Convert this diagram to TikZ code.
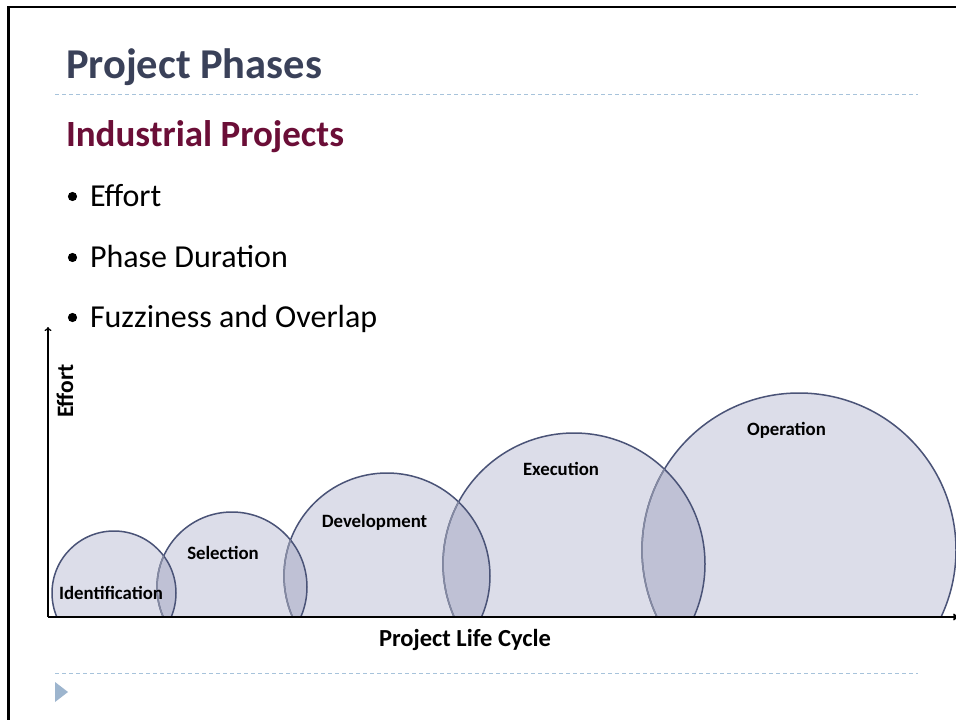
\documentclass[tikz,border=0pt]{standalone}
\usepackage{fontspec}
\setmainfont{Carlito}
\usetikzlibrary{arrows.meta}
\definecolor{titlecol}{HTML}{3A4159}
\definecolor{subcol}{HTML}{6B0E37}
\definecolor{dashcol}{HTML}{A7C3DB}
\definecolor{tricol}{HTML}{9DB5CE}
\definecolor{circfill}{HTML}{DCDDE9}
\definecolor{lensfill}{HTML}{BFC1D5}
\definecolor{circline}{HTML}{4A5377}
\definecolor{circlight}{HTML}{858AA2}
\tikzset{
  txt/.style={inner sep=0pt, outer sep=0pt, anchor=base west},
  lbl/.style={inner sep=0pt, outer sep=0pt, anchor=base, font=\fontsize{18.8}{20}\selectfont\bfseries},
  axlbl/.style={inner sep=0pt, outer sep=0pt, font=\fontsize{24.5}{26}\selectfont\bfseries},
  bul/.style={txt, font=\fontsize{32}{34}\selectfont},
  sep/.style={dashcol, line width=1pt, dash pattern=on 4pt off 3pt},
  ring/.style={circline, line width=1.5pt},
}
\begin{document}
\begin{tikzpicture}[x=1pt, y=-1pt]
\useasboundingbox (0,0) rectangle (956,720);
\fill[white] (0,0) rectangle (956,720);
% frame
\coordinate (fbl) at (8.7,721);
\coordinate (ftl) at (8.7,7);
\coordinate (ftr) at (957,7);
\draw[line width=2.5pt] (fbl) -- (ftl) -- (ftr);
% title
\node[txt, font=\fontsize{42.5}{44}\selectfont\bfseries, text=titlecol] (title) at (66,78) {Project Phases};
\coordinate (d1a) at (55,94); \coordinate (d1b) at (918,94);
\draw[sep] (d1a) -- (d1b);
\node[txt, font=\fontsize{37}{39}\selectfont\bfseries, text=subcol] (sub) at (66,146) {Industrial Projects};
% bullets
\node[bul] (b1) at (90,206) {Effort};
\node[bul] (b2) at (90,267) {Phase Duration};
\node[bul] (b3) at (90,327) {Fuzziness and Overlap};
\fill (72.5,196.5) circle[radius=4.6];
\fill (72.5,257.5) circle[radius=4.6];
\fill (72.5,317.5) circle[radius=4.6];
% circles
\coordinate (c1) at (114,593);
\coordinate (c2) at (232,587);
\coordinate (c3) at (387,576);
\coordinate (c4) at (574,564);
\coordinate (c5) at (799,550);
\begin{scope}
\clip (0,0) rectangle (956,617);
\fill[circfill] (c1) circle[radius=62];
\fill[circfill] (c2) circle[radius=75];
\fill[circfill] (c3) circle[radius=103];
\fill[circfill] (c4) circle[radius=131];
\fill[circfill] (c5) circle[radius=157];
\begin{scope}\clip (c1) circle[radius=62]; \fill[lensfill] (c2) circle[radius=75];\end{scope}
\begin{scope}\clip (c2) circle[radius=75]; \fill[lensfill] (c3) circle[radius=103];\end{scope}
\begin{scope}\clip (c3) circle[radius=103]; \fill[lensfill] (c4) circle[radius=131];\end{scope}
\begin{scope}\clip (c4) circle[radius=131]; \fill[lensfill] (c5) circle[radius=157];\end{scope}
\draw[ring] (c1) circle[radius=62];
\draw[ring] (c2) circle[radius=75];
\draw[ring] (c3) circle[radius=103];
\draw[ring] (c4) circle[radius=131];
\draw[ring] (c5) circle[radius=157];
\begin{scope}\clip (c1) circle[radius=62]; \draw[ring, circlight] (c2) circle[radius=75];\end{scope}
\begin{scope}\clip (c2) circle[radius=75]; \draw[ring, circlight] (c3) circle[radius=103];\end{scope}
\begin{scope}\clip (c3) circle[radius=103]; \draw[ring, circlight] (c4) circle[radius=131];\end{scope}
\begin{scope}\clip (c4) circle[radius=131]; \draw[ring, circlight] (c5) circle[radius=157];\end{scope}
\end{scope}
% circle labels
\node[lbl] (l1) at (111,599) {Identification};
\node[lbl] (l2) at (223,559) {Selection};
\node[lbl] (l3) at (374.5,527) {Development};
\node[lbl] (l4) at (561,475) {Execution};
\node[lbl] (l5) at (786.5,435) {Operation};
% axes
\coordinate (O) at (48,617);
\coordinate (ytip) at (48,327);
\coordinate (xtip) at (957,617);
\draw[line width=1.3pt, -{To[length=4pt,width=7pt]}] (O) -- (ytip);
\draw[line width=2pt, -{To[length=4pt,width=7pt]}] (O) -- (xtip);
\node[axlbl] (xl) at (465,640) {Project Life Cycle};
\node[axlbl, font=\fontsize{23.5}{25}\selectfont\bfseries, rotate=90] (yl) at (65,391) {Effort};
% footer
\coordinate (d2a) at (55,673); \coordinate (d2b) at (918,673);
\draw[sep] (d2a) -- (d2b);
\fill[tricol] (55,682) -- (55,702) -- (68,692) -- cycle;
\end{tikzpicture}
\end{document}
